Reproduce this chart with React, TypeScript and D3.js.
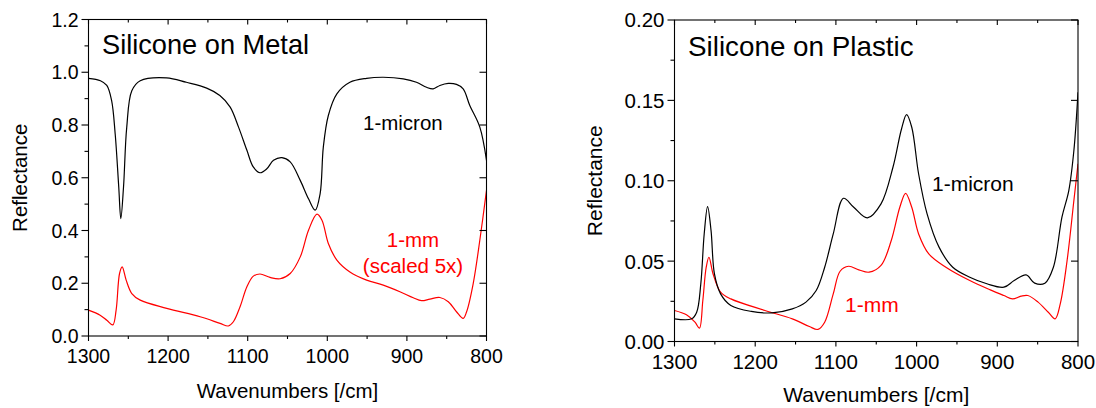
import React from "react";
import * as d3 from "d3";

// ---------- DATA ----------
const X_TICKS = [1300, 1200, 1100, 1000, 900, 800];
const X_MINOR = [1250, 1150, 1050, 950, 850];

const METAL_Y_TICKS = [0, 0.2, 0.4, 0.6, 0.8, 1.0, 1.2];
const METAL_Y_MINOR = [0.1, 0.3, 0.5, 0.7, 0.9, 1.1];
const PLASTIC_Y_TICKS = [0, 0.05, 0.1, 0.15, 0.2];
const PLASTIC_Y_MINOR = [0.025, 0.075, 0.125, 0.175];

// Silicone on Metal, 1-micron [wavenumber, reflectance]
const metalMicron: [number, number][] = [
  [1300, 0.977], [1285, 0.968], [1277, 0.95], [1271, 0.893], [1266.5, 0.767],
  [1262, 0.565], [1259.4, 0.445], [1256, 0.565], [1252, 0.79], [1245.6, 0.93],
  [1235, 0.968], [1202, 0.979], [1177, 0.962], [1151.5, 0.94], [1135, 0.912],
  [1122, 0.868], [1111.5, 0.792], [1101, 0.704], [1093, 0.641], [1084.5, 0.619],
  [1076, 0.634], [1067.6, 0.666], [1057, 0.676], [1046.6, 0.66], [1034, 0.59],
  [1023.6, 0.52], [1015.3, 0.477], [1009, 0.54], [1005, 0.716], [998.7, 0.836],
  [988, 0.918], [971.6, 0.962], [950.6, 0.977], [929.7, 0.981], [904.6, 0.975],
  [888, 0.962], [875.3, 0.943], [867, 0.937], [858.6, 0.95], [848, 0.958],
  [837.7, 0.954], [829.3, 0.937], [821, 0.874], [808.4, 0.792], [800, 0.666],
];

// Silicone on Metal, 1-mm (scaled 5x)
const metalMm: [number, number][] = [
  [1300, 0.098], [1285.4, 0.079], [1277, 0.06], [1269.5, 0.042], [1265.3, 0.098],
  [1261, 0.237], [1257.7, 0.262], [1252.7, 0.212], [1245.6, 0.161], [1235, 0.136],
  [1201.7, 0.105], [1159.8, 0.073], [1134.7, 0.048], [1124.3, 0.038], [1118, 0.054],
  [1109.6, 0.111], [1101, 0.187], [1092.9, 0.227], [1084.5, 0.235], [1071.9, 0.222],
  [1059.3, 0.217], [1046.6, 0.237], [1034, 0.3], [1023.6, 0.401], [1013, 0.462],
  [1006.7, 0.439], [998.7, 0.351], [988, 0.288], [971.6, 0.243], [950.6, 0.212],
  [929.7, 0.193], [908.8, 0.168], [892, 0.145], [881.6, 0.134], [871.1, 0.14],
  [858.6, 0.146], [848, 0.13], [837.7, 0.092], [829.3, 0.067], [825, 0.092],
  [816.7, 0.199], [808.4, 0.363], [800, 0.552],
];

// Silicone on Plastic, 1-micron
const plasticMicron: [number, number][] = [
  [1300, 0.0141], [1278.8, 0.0141], [1272.5, 0.0182], [1267.4, 0.0359], [1263.2, 0.0669],
  [1259, 0.0839], [1254.7, 0.069], [1250.5, 0.042], [1242.9, 0.0296], [1230.2, 0.0224],
  [1204.8, 0.0187], [1179.4, 0.0178], [1154, 0.0203], [1137.1, 0.0245], [1124.4, 0.0317],
  [1113.9, 0.0462], [1103.3, 0.0669], [1090.6, 0.0891], [1077.9, 0.0835], [1061, 0.0769],
  [1044.1, 0.0856], [1029.3, 0.1084], [1018.7, 0.1322], [1012.4, 0.1411], [1006, 0.1333],
  [997.5, 0.1042], [987, 0.0794], [972.2, 0.0587], [955.2, 0.0462], [934.1, 0.04],
  [912.9, 0.0359], [891.8, 0.0338], [879.1, 0.0379], [864.3, 0.0414], [853.7, 0.0363],
  [841, 0.0363], [830.5, 0.0462], [819.9, 0.0773], [811.4, 0.0939], [805.1, 0.1188],
  [800, 0.155],
];

// Silicone on Plastic, 1-mm
const plasticMm: [number, number][] = [
  [1300, 0.0193], [1285.2, 0.0166], [1274.6, 0.012], [1269.1, 0.0083], [1264.9, 0.0255],
  [1260.7, 0.0462], [1257.3, 0.0524], [1252.2, 0.042], [1242.9, 0.0307], [1230.2, 0.0265],
  [1187.9, 0.0193], [1154, 0.0141], [1132.9, 0.0093], [1122.3, 0.0075], [1113.9, 0.012],
  [1103.3, 0.0296], [1094.8, 0.0437], [1084.3, 0.0468], [1071.6, 0.0446], [1058.9, 0.0431],
  [1044.1, 0.0473], [1031.4, 0.0628], [1020.8, 0.0835], [1013.6, 0.0922], [1006, 0.0835],
  [997.5, 0.0669], [984.9, 0.0545], [963.7, 0.0462], [934.1, 0.0379], [908.7, 0.0321],
  [891.8, 0.0286], [881.2, 0.0265], [870.6, 0.0282], [862.2, 0.0286], [849.5, 0.0245],
  [836.8, 0.0182], [828.3, 0.0141], [822, 0.0234], [813.5, 0.0504], [805.1, 0.0877],
  [800, 0.1105],
];

const FONT = "'Liberation Sans', Arial, Helvetica, sans-serif";

type Label = { text: string; x: number; y: number; color: string; anchor: string };

type PanelProps = {
  left: number; right: number; top: number; bottom: number;
  yMax: number; yTicks: number[]; yMinor: number[]; yFmt: string;
  micron: [number, number][]; mm: [number, number][];
  title: string; titleX: number; titleY: number; titleSize: number;
  tickSize: number; labelSize: number;
  yLabelX: number; xLabelY: number;
  labels: Label[];
};

function Panel(p: PanelProps) {
  const x = d3.scaleLinear().domain([1300, 800]).range([p.left, p.right]);
  const y = d3.scaleLinear().domain([0, p.yMax]).range([p.bottom, p.top]);
  const line = d3
    .line<[number, number]>()
    .x((d) => x(d[0]))
    .y((d) => y(d[1]))
    .curve(d3.curveCatmullRom.alpha(0.5));
  const fmt = d3.format(p.yFmt);
  const cx = (p.left + p.right) / 2;
  const cy = (p.top + p.bottom) / 2;
  return (
    <g fontFamily={FONT}>
      <defs>
        <clipPath id={"clip" + p.left}>
          <rect x={p.left} y={p.top} width={p.right - p.left} height={p.bottom - p.top} />
        </clipPath>
      </defs>
      <g clipPath={`url(#clip${p.left})`}>
        <path d={line(p.mm) || ""} fill="none" stroke="#ff0000" strokeWidth={1.2} />
        <path d={line(p.micron) || ""} fill="none" stroke="#000" strokeWidth={1.2} />
      </g>
      <rect x={p.left} y={p.top} width={p.right - p.left} height={p.bottom - p.top}
        fill="none" stroke="#000" strokeWidth={1.1} />
      {p.yTicks.map((t) => (
        <g key={"yt" + t}>
          <line x1={p.left - 7} x2={p.left} y1={y(t)} y2={y(t)} stroke="#000" strokeWidth={1.1} />
          <line x1={p.right - 7} x2={p.right} y1={y(t)} y2={y(t)} stroke="#000" strokeWidth={1.1} />
          <text x={p.left - 10} y={y(t)} dy="0.36em" textAnchor="end" fontSize={p.tickSize}>
            {fmt(t)}
          </text>
        </g>
      ))}
      {p.yMinor.map((t) => (
        <line key={"ym" + t} x1={p.left - 4} x2={p.left} y1={y(t)} y2={y(t)} stroke="#000" strokeWidth={1.1} />
      ))}
      {X_TICKS.map((t) => (
        <g key={"xt" + t}>
          <line x1={x(t)} x2={x(t)} y1={p.bottom} y2={p.bottom + 5} stroke="#000" strokeWidth={1.1} />
          <line x1={x(t)} x2={x(t)} y1={p.top} y2={p.top + 5} stroke="#000" strokeWidth={1.1} />
          <text x={x(t)} y={p.bottom + 27} textAnchor="middle" fontSize={p.tickSize}>
            {t}
          </text>
        </g>
      ))}
      {X_MINOR.map((t) => (
        <g key={"xm" + t}>
          <line x1={x(t)} x2={x(t)} y1={p.bottom} y2={p.bottom + 3} stroke="#000" strokeWidth={1.1} />
          <line x1={x(t)} x2={x(t)} y1={p.top} y2={p.top + 3} stroke="#000" strokeWidth={1.1} />
        </g>
      ))}
      <text x={cx} y={p.xLabelY} textAnchor="middle" fontSize={p.labelSize}>
        Wavenumbers [/cm]
      </text>
      <text transform={`translate(${p.yLabelX},${cy}) rotate(-90)`} textAnchor="middle"
        dy="0.36em" fontSize={p.labelSize}>
        Reflectance
      </text>
      <text x={p.titleX} y={p.titleY} fontSize={p.titleSize}>{p.title}</text>
      {p.labels.map((l, i) => (
        <text key={i} x={l.x} y={l.y} fill={l.color} textAnchor={l.anchor} fontSize={p.labelSize}>
          {l.text}
        </text>
      ))}
    </g>
  );
}

export default function App() {
  return (
    <svg width={1096} height={408} style={{ position: "absolute", left: 0, top: 0, background: "#fff" }}>
      <rect width={1096} height={408} fill="#fff" />
      <Panel
        left={88.5} right={486.5} top={19.5} bottom={336}
        yMax={1.2} yTicks={METAL_Y_TICKS} yMinor={METAL_Y_MINOR} yFmt=".1f"
        micron={metalMicron} mm={metalMm}
        title="Silicone on Metal" titleX={102} titleY={54} titleSize={27.2}
        tickSize={19.5} labelSize={20.5}
        yLabelX={20} xLabelY={398}
        labels={[
          { text: "1-micron", x: 363, y: 130, color: "#000", anchor: "start" },
          { text: "1-mm", x: 413, y: 247, color: "#ff0000", anchor: "middle" },
          { text: "(scaled 5x)", x: 413, y: 273, color: "#ff0000", anchor: "middle" },
        ]}
      />
      <Panel
        left={674.5} right={1078} top={20} bottom={341.5}
        yMax={0.2} yTicks={PLASTIC_Y_TICKS} yMinor={PLASTIC_Y_MINOR} yFmt=".2f"
        micron={plasticMicron} mm={plasticMm}
        title="Silicone on Plastic" titleX={688} titleY={55.5} titleSize={27.8}
        tickSize={20.5} labelSize={21}
        yLabelX={594} xLabelY={402}
        labels={[
          { text: "1-micron", x: 932, y: 191, color: "#000", anchor: "start" },
          { text: "1-mm", x: 845, y: 312, color: "#ff0000", anchor: "start" },
        ]}
      />
    </svg>
  );
}
